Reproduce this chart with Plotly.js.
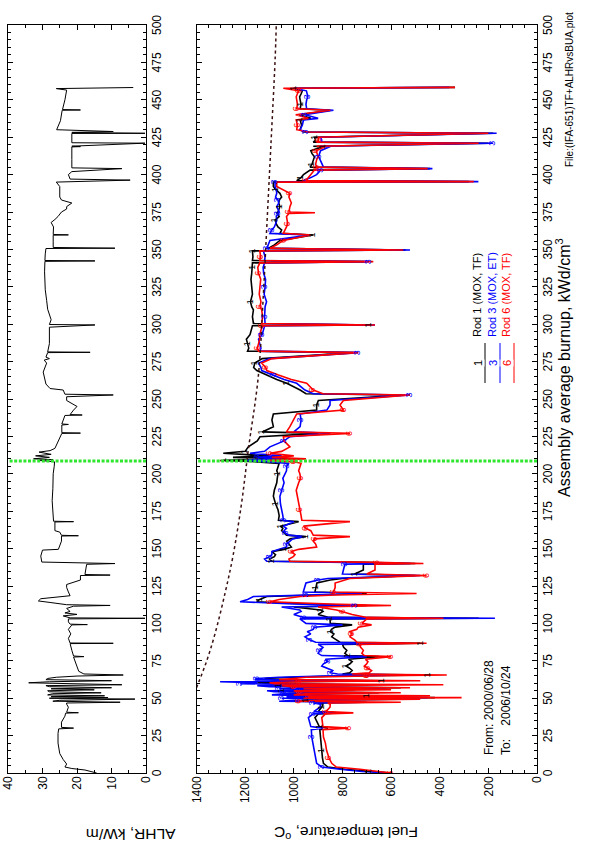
<!DOCTYPE html>
<html><head><meta charset="utf-8">
<script src="https://cdn.plot.ly/plotly-3.0.1.min.js"></script>
<style>
html,body{margin:0;padding:0;overflow:hidden;background:#fff;width:606px;height:853px;}
#wrap{position:absolute;left:0;top:0;width:853px;height:606px;transform-origin:0 0;transform:translate(0,853px) rotate(-90deg);}
#chart{width:853px;height:606px;}
</style></head><body><div id="wrap"><div id="chart"></div></div>
<script>
// ALHR vs assembly burnup
const alhrBurnup = [0,1,2,3,4,6,9,13,20,26.5,29.5,30,30.5,34,38,40,40.3,40.6,44,46,
46.8,47.3,48,48.6,49.4,50,50.4,51,51.6,52.2,53,53.6,54.3,55,55.6,56.3,57,57.7,58.4,59,
59.7,60.3,61,61.7,62.4,63.2,64,64.8,65.5,66.2,68,71,74,77.5,77.8,78.2,82,86.5,86.7,86.9,
90,93,96,99,99.2,99.5,101,103,103.4,103.7,105,106,107,108,110,111.5,112,112.5,114,115,
116.5,117.5,118.5,121,124,126,128,129,132,132.3,132.7,135,139.5,140,140.5,141,145,149,149.5,152,
155,158.4,158.6,158.9,161,162,167.8,168,168.3,175,182,190,200,205,208,209,209.5,210,211,212,
213,214.5,215.5,217,222.6,227,227.2,227.5,232.6,233,233.3,239,239.3,239.6,242.6,245,249,251.5,252.7,253.2,
256,257,260,264,268,274,276,277,278,281,281.2,281.5,287,298,299.5,299.8,303,310,316,323,
335,342,342.3,342.6,347,350.6,350.8,351.3,355,359.5,359.7,360,365,368,370,372,375,377,378.6,381,
383,385,392,395,396.3,397,400,402,404,404.5,410,418.5,418.7,419,421,421.3,427.5,427.6,428.2,428.8,
430,436,443,443.2,443.5,450,456.5,457.5,458.2];
const alhrValue = [14.3,16,17.7,21.5,23.5,23,24,25,25.5,25.5,25.3,21,24.5,24.5,23.5,23.3,19.6,23,22.5,23,
23,7.5,27,25,3.2,28,11,27.5,12,28.5,27,13,28,28.5,15,27.5,10,28,29,7,
29,34,28,10,29,28.5,26,20,6.6,18,19.5,20,20.5,21,18,21,21.5,22,9.5,22,
22.5,21.8,22.5,21.5,17,22,22.5,22.5,0.3,22,24,20,23.5,22,23,21,10.4,23,27.8,31.2,
30.5,27,22,22.5,23,23,20.5,19,19,10.4,17.7,17.5,17.2,9,17,30.2,30.5,30,25.4,25,
24.5,24.5,19.6,24.5,25,26.4,26.4,21,26.8,27,27.2,27,26.9,26.6,26.5,31,27,32.6,28,32,
27.5,31,27.8,26.4,25.4,24.4,19,24.4,24.4,22.5,24.4,23.5,18.5,22,21,20,23,23,9.5,23.5,
24,27.8,29,29.5,29.8,28.8,29.5,28,29,28.5,16.2,28.5,28,28,14.8,28,27.5,28.5,28.8,29.2,
29.4,29.3,14.8,29.3,29.2,29,9,26.9,26.9,26.9,22.5,26.9,26.8,27.5,26.4,25.5,24.5,23,23,21.5,
24.5,25,25,26,4.6,22,22.5,21.5,7,21.5,21.5,21.5,19,21.5,0.3,21.5,21.5,0.3,21.5,9.5,
25.9,24.8,24.3,19,24.2,23.5,23,26,3.7];

// Fuel temperature vs assembly burnup (rods 1, 3, 6)
const tempBurnup = [0,1,2.5,4,6.5,10,15,20,24,29,
30,31,37,39.5,40.2,41,44,46,46.8,47.3,
48,48.6,49.4,50,50.4,51,51.6,52.2,53,53.6,
54.3,55,55.6,56.3,57,57.7,58.4,59,59.7,60.3,
61,61.7,62.4,63.2,64,64.8,65.5,66.2,67,68.5,
70,71.5,73,74.5,76,77.8,78.5,80,82,84,
86,86.7,87.4,89,91,93,94.5,96,97.5,99,
100,103,103.4,104,106,108,109,111,112,113,
114.5,116,118,119,120,121,124,127,129,130,
132,133,135.7,139.5,140,140.8,141.5,143,144.6,146,
148,149.5,151,153,155,156.5,158,159,160.5,162,
163.5,165,168,169,172,176,180,185,189,194,
197,200,202,205,207,208,209,210,211,212,
213.7,215,218,222,224.8,227,228,231.5,236,240,
242.6,246,249,252.7,253.5,256,260.5,263,266,269,
271,274,277,281,282,284,287,290,293,296,
299,299.5,300.5,305,309.5,311.7,315,320,325,330,
334,338,341,341.8,342.6,345,349,349.6,350.7,353,
356,359.6,360.7,363,365,367,369.6,372,374,374.5,
375,378.6,381,383,385,387.5,390,392,395,395.3,
396,398,400,403,404,405,407,410,412,414,
416,418.7,419,421,421.7,423,425,427.6,428.5,430,
433,436.5,437.6,440,443,444,447,450,452,454,
456,457.7,458.3];
const rod1Temp = [600,690,790,860,878,882,885,888,892,893,
860,895,913,900,820,900,885,880,900,700,
1000,950,560,1000,420,980,700,1050,980,650,
1020,1050,750,1000,560,1020,1060,700,1080,1150,
1000,640,1080,1120,1000,820,450,800,770,760,
770,785,769,760,775,650,778,790,782,795,
800,480,810,825,844,835,850,845,830,760,
850,851,240,855,900,880,890,1000,700,950,
1152,1140,1111,900,700,913,910,905,850,800,
500,750,714,714,500,710,1090,1100,1080,1075,
1090,1040,1010,1020,1029,1015,950,1030,1040,1050,
1045,1055,980,1063,1060,1065,1075,1084,1080,1070,
1068,1065,1070,1063,1060,1150,1290,1000,1250,1100,
1290,1200,1187,1150,1139,900,1130,1084,1090,1084,
906,906,899,550,950,974,1029,1070,1111,1152,
1165,1160,1130,750,1190,1185,1190,1195,1180,1175,
1170,690,1166,1170,1166,1173,1178,1170,1173,1176,
1173,1170,1170,700,1170,1168,1170,540,1105,1080,
1057,920,1057,1050,1065,1072,1077,1060,1070,1070,
1065,1057,1062,1060,1050,1057,1075,1084,1084,280,
988,970,960,933,440,933,925,920,915,925,
930,880,920,200,920,910,915,180,960,974,
968,974,930,978,850,974,970,974,976,970,
965,1000,337];
const rod3Temp = [600,720,810,885,906,910,913,920,926,928,
880,930,940,920,830,918,892,890,920,720,
1060,1000,600,1050,450,1030,760,1090,1040,700,
1080,1110,800,1060,620,1100,1150,760,1221,1150,
1303,700,1160,1152,1060,880,520,820,850,840,
865,885,878,860,870,700,885,900,892,880,
900,540,910,935,954,930,945,920,915,800,
950,975,173,960,1000,970,975,1050,750,1000,
1221,1190,1166,950,720,961,955,950,900,860,
480,800,796,790,520,790,1111,1120,1098,1090,
1090,1060,1030,1030,1016,1005,960,1020,1035,1040,
1030,1043,1000,1043,1045,1050,1055,1057,1050,1040,
1045,1035,1030,1029,1020,1100,1200,1050,1150,1050,
1180,1120,1098,1040,1016,850,1000,974,970,974,
864,851,851,522,920,954,988,1040,1084,1132,
1135,1145,1100,735,1140,1135,1140,1145,1130,1125,
1120,666,1118,1120,1118,1118,1112,1122,1118,1116,
1124,1126,1120,690,1120,1118,1125,522,1111,1105,
1098,935,1098,1090,1080,1075,1070,1072,1065,1065,
1060,1070,1062,1065,1075,1070,1072,1077,1077,241,
960,930,906,890,430,878,885,892,898,895,
890,850,892,180,890,885,890,166,950,974,
965,960,900,955,837,947,950,947,942,945,
948,1000,360];
const rod6Temp = [600,650,728,825,844,855,865,870,878,880,
776,880,885,870,755,868,851,850,860,560,
980,900,480,960,310,940,440,1000,950,560,
980,1000,600,960,522,1000,1050,385,1080,1100,
980,480,1060,1000,950,700,371,760,690,680,
695,710,700,695,705,600,710,720,714,725,
730,454,740,750,769,760,770,741,735,680,
720,700,385,700,760,800,824,900,600,850,
1098,1060,974,830,495,837,830,830,796,770,
454,700,666,666,467,660,1016,1020,1002,995,
1010,980,906,910,920,915,769,920,925,930,
950,960,769,967,970,975,980,988,990,980,
972,975,980,974,970,1000,1100,950,1090,1000,
1098,1050,1016,1040,1043,769,1030,1016,1000,988,
796,810,796,522,880,920,947,1010,1063,1111,
1115,1132,1090,735,1145,1150,1145,1140,1140,1135,
1130,666,1132,1128,1132,1139,1135,1142,1139,1136,
1145,1148,1140,673,1140,1136,1140,550,1098,1070,
1043,930,1043,1035,1030,1025,1029,1030,1020,913,
1020,1016,1010,1016,1020,1016,1050,1070,1070,260,
950,940,930,915,450,906,910,906,900,905,
908,870,906,240,906,898,900,200,940,988,
985,990,940,992,850,988,985,988,990,985,
980,1043,337];

// Temperature limit curve (dotted)
const limitBurnup = [57,75,93,120,145,180,216,265,320,365,420,476,500];
const limitTemp = [1400,1358,1324,1283,1250,1215,1187,1146,1125,1111,1094,1077,1072];

// Vertical marker (green dotted) at this burnup
const markerBurnup = 208.5;
const alhrRange = [0,40];
const tempRange = [0,1400];

const seriesNames = ['Rod 1 (MOX, TF)','Rod 3 (MOX, ET)','Rod 6 (MOX, TF)'];
const seriesSymbols = ['1','3','6'];
const seriesColors = ['#000000','#0000ff','#ff0000'];

const FONT = 'Liberation Sans, Arial, Helvetica, sans-serif';

const traces = [
  {x: alhrBurnup, y: alhrValue, xaxis:'x', yaxis:'y', mode:'lines', line:{color:'#000', width:1}, hoverinfo:'skip'},
];
const rodData = [rod1Temp, rod3Temp, rod6Temp];
rodData.forEach((arr, j) => {
  traces.push({x: tempBurnup, y: arr, xaxis:'x2', yaxis:'y2', mode:'lines',
    line:{color:seriesColors[j], width:1.6}, name: seriesNames[j]});
});
rodData.forEach((arr, j) => {
  const idx = arr.map((v,i)=>i).filter(i => i % 5 === (j*2+1) % 5);
  traces.push({x: idx.map(i=>tempBurnup[i]), y: idx.map(i=>arr[i]), xaxis:'x2', yaxis:'y2', mode:'text',
    text: idx.map(()=>seriesSymbols[j]), textposition:'middle center',
    textfont:{family:FONT, size:9, color:seriesColors[j]}});
});
traces.push({x: limitBurnup, y: limitTemp, xaxis:'x2', yaxis:'y2', mode:'lines',
  line:{color:'#3a1010', width:1.5, dash:'dot', shape:'spline'}});
traces.push({x:[markerBurnup, markerBurnup], y: alhrRange, xaxis:'x', yaxis:'y', mode:'lines',
  line:{color:'#2ee62e', width:3, dash:'3px,1.6px'}, cliponaxis:false});
traces.push({x:[markerBurnup, markerBurnup], y: tempRange, xaxis:'x2', yaxis:'y2', mode:'lines',
  line:{color:'#2ee62e', width:3, dash:'3px,1.6px'}, cliponaxis:false});

const xDom = [80/853, 828/853];
const yTop = [1-146/606, 1-8/606];
const yBot = [1-537/606, 1-196.5/606];

function mainAxis(extra){
  return Object.assign({showline:true, linecolor:'#000', linewidth:1, mirror:'ticks',
    ticks:'inside', ticklen:5, tickwidth:1, tickcolor:'#000', showgrid:false, zeroline:false,
    tickfont:{family:FONT, size:12, color:'#000'}, fixedrange:true}, extra);
}
const minorTicks = (d) => ({dtick:d, ticks:'inside', ticklen:3, tickcolor:'#000', showgrid:false});

const layout = {
  width:853, height:606, margin:{l:0,r:0,t:0,b:0}, showlegend:false,
  paper_bgcolor:'#fff', plot_bgcolor:'rgba(0,0,0,0)',
  xaxis: mainAxis({domain:xDom, anchor:'y', range:[0,500], dtick:25, tick0:0, minor:minorTicks(5)}),
  yaxis: mainAxis({domain:yTop, anchor:'x', range:alhrRange, dtick:10, tick0:0, minor:minorTicks(5)}),
  xaxis2: mainAxis({domain:xDom, anchor:'y2', range:[0,500], dtick:25, tick0:0, minor:minorTicks(5)}),
  yaxis2: mainAxis({domain:yBot, anchor:'x2', range:tempRange, dtick:200, tick0:0, minor:minorTicks(50)}),
  annotations: [],
  shapes: []
};

const A = layout.annotations;
function ann(u, v, text, opts){
  A.push(Object.assign({xref:'paper', yref:'paper', x:u/853, y:1-v/606, text:text, showarrow:false,
    font:{family:FONT, size:12, color:'#000'}}, opts));
}
ann(8, 84, 'ALHR, kW/m', {textangle:-90, font:{family:FONT, size:15.5, color:'#000'}});
ann(8, 346, 'Fuel temperature, <sup>o</sup>C', {textangle:-90, font:{family:FONT, size:15.5, color:'#000'}});
ann(486, 575, 'Assembly average burnup, kWd/cm<sup>3</sup>', {font:{family:FONT, size:16, color:'#000'}});
ann(843, 577, 'File:(IFA-651)TF+ALHRvsBUA.plot', {xanchor:'right', font:{family:FONT, size:10, color:'#000'}});
ann(96, 498, 'From: 2000/06/28', {xanchor:'left'});
ann(96, 515, 'To:\u00a0\u00a0\u00a0\u00a02006/10/24', {xanchor:'left'});

const legendV = [485, 500, 514];
seriesNames.forEach((nm, j) => {
  layout.shapes.push({type:'line', xref:'paper', yref:'paper', x0:470/853, x1:510/853,
    y0:1-legendV[j]/606, y1:1-legendV[j]/606, line:{color:seriesColors[j], width:1}});
  ann(490, legendV[j], seriesSymbols[j], {bgcolor:'#fff', borderpad:0,
    font:{family:FONT, size:11, color:seriesColors[j]}});
  ann(514, legendV[j], nm, {xanchor:'left', font:{family:FONT, size:11, color:seriesColors[j]}});
});

Plotly.newPlot('chart', traces, layout, {staticPlot:true, displayModeBar:false});
</script>
</body></html>
